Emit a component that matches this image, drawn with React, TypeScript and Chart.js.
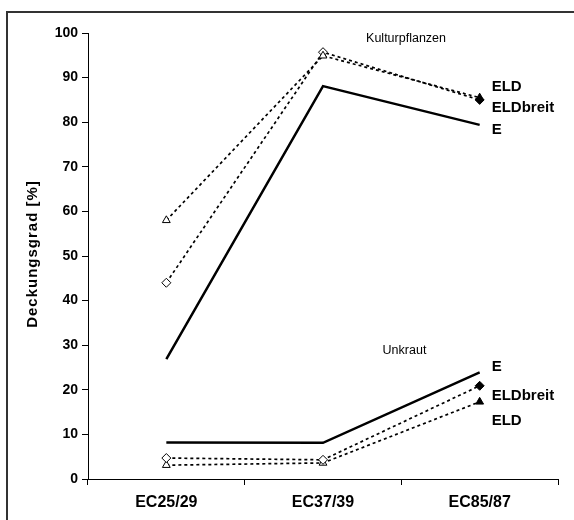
import React, { useEffect, useRef } from "react";
import { Chart, registerables } from "chart.js";

Chart.register(...registerables);

const categories = ["EC25/29", "EC37/39", "EC85/87"];
const kulturE = [26.9, 88.1, 79.4];
const kulturELD = [58, 94.9, 85.5];
const kulturELDbreit = [44, 95.7, 85];
const unkrautE = [8.2, 8.1, 23.9];
const unkrautELDbreit = [4.7, 4.3, 20.9];
const unkrautELD = [3.1, 3.6, 17.3];
const yTicks = [0, 10, 20, 30, 40, 50, 60, 70, 80, 90, 100];
const groupLabels = [
  { text: "Kulturpflanzen", x: 1.53, y: 98.7 },
  { text: "Unkraut", x: 1.52, y: 28.7 },
];
const seriesLabels = [
  { text: "ELD", y: 87.9 },
  { text: "ELDbreit", y: 83.2 },
  { text: "E", y: 78.3 },
  { text: "E", y: 25.1 },
  { text: "ELDbreit", y: 18.6 },
  { text: "ELD", y: 13.0 },
];
const yTitle = "Deckungsgrad [%]";

const FONT = "'Liberation Sans', Arial, sans-serif";

const fills = ["#ffffff", "#ffffff", "#000000"];

function dsLine(data: number[], solid: boolean, style: any) {
  return {
    data,
    borderColor: "#000",
    borderWidth: solid ? 2.5 : 1.7,
    borderDash: solid ? [] : [3, 3],
    pointStyle: style || "circle",
    pointRadius: solid ? 0 : 4.5,
    pointHoverRadius: solid ? 0 : 4.5,
    pointBackgroundColor: fills,
    pointBorderColor: "#000",
    pointBorderWidth: 1,
    tension: 0,
    fill: false,
  };
}

const overlay = {
  id: "overlay",
  afterDraw(chart: any) {
    const ctx = chart.ctx;
    const xs = chart.scales.x;
    const ys = chart.scales.y;
    ctx.save();
    // frame
    ctx.strokeStyle = "#333";
    ctx.lineWidth = 2;
    ctx.strokeRect(7, 12, 600, 600);
    // y title
    ctx.fillStyle = "#000";
    ctx.font = `bold 15px ${FONT}`;
    (ctx as any).letterSpacing = "1px";
    ctx.textAlign = "center";
    ctx.textBaseline = "middle";
    ctx.translate(33, (chart.chartArea.top + chart.chartArea.bottom) / 2 - 2);
    ctx.rotate(-Math.PI / 2);
    ctx.fillText(yTitle, 0, 0);
    ctx.restore();

    ctx.save();
    const p1 = xs.getPixelForValue(1);
    const p2 = xs.getPixelForValue(2);
    const step = p2 - p1;
    ctx.fillStyle = "#000";
    ctx.font = `12.5px ${FONT}`;
    ctx.textAlign = "center";
    ctx.textBaseline = "middle";
    groupLabels.forEach((g) => {
      ctx.fillText(g.text, p1 + (g.x - 1) * step, ys.getPixelForValue(g.y));
    });
    ctx.font = `bold 15px ${FONT}`;
    ctx.textAlign = "left";
    seriesLabels.forEach((s) => {
      ctx.fillText(s.text, p2 + 12, ys.getPixelForValue(s.y));
    });
    ctx.restore();
  },
};

export default function App() {
  const ref = useRef<HTMLCanvasElement>(null);
  useEffect(() => {
    if (!ref.current) return;
    const chart = new Chart(ref.current, {
      type: "line",
      data: {
        labels: categories,
        datasets: [
          dsLine(kulturE, true, null),
          dsLine(kulturELD, false, "triangle"),
          dsLine(kulturELDbreit, false, "rectRot"),
          dsLine(unkrautE, true, null),
          dsLine(unkrautELDbreit, false, "rectRot"),
          dsLine(unkrautELD, false, "triangle"),
        ] as any,
      },
      options: {
        animation: false,
        responsive: false,
        devicePixelRatio: 1,
        layout: { padding: { top: 33, right: 16, left: 0, bottom: 0 } },
        plugins: { legend: { display: false }, tooltip: { enabled: false } },
        scales: {
          x: {
            type: "category",
            offset: true,
            afterFit: (s: any) => {
              s.height = 41;
            },
            grid: {
              offset: true,
              drawOnChartArea: false,
              drawTicks: true,
              tickLength: 6,
              color: "#000",
            },
            border: { display: true, color: "#000", width: 1 },
            ticks: {
              color: "#000",
              padding: 8,
              font: { family: FONT, size: 16, weight: "bold" },
            },
          },
          y: {
            min: 0,
            max: 100,
            afterFit: (s: any) => {
              s.width = 88;
            },
            afterBuildTicks: (s: any) => {
              s.ticks = yTicks.map((v) => ({ value: v }));
            },
            grid: {
              drawOnChartArea: false,
              drawTicks: true,
              tickLength: 6,
              color: "#000",
            },
            border: { display: true, color: "#000", width: 1 },
            ticks: {
              color: "#000",
              padding: 4,
              font: { family: FONT, size: 14, weight: "bold" },
            },
          },
        },
      },
      plugins: [overlay],
    });
    return () => chart.destroy();
  }, []);
  return (
    <div style={{ position: "fixed", left: 0, top: 0, width: 574, height: 520, background: "#fff", overflow: "hidden" }}>
      <canvas ref={ref} width={574} height={520} style={{ display: "block" }} />
    </div>
  );
}
